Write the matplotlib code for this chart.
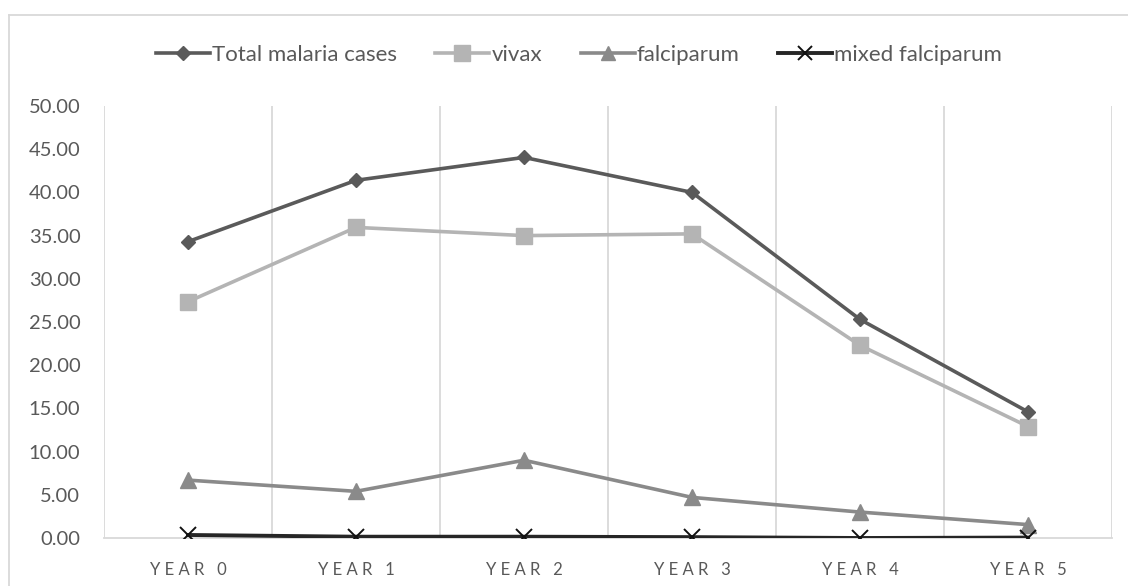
import matplotlib.pyplot as plt
from matplotlib.lines import Line2D

plt.rcParams["font.family"] = ["Lato", "DejaVu Sans"]

# yearly case figures per series
years = ["YEAR 0", "YEAR 1", "YEAR 2", "YEAR 3", "YEAR 4", "YEAR 5"]
total_cases = [34.3, 41.4, 44.05, 40.0, 25.3, 14.6]
vivax = [27.35, 35.95, 35.0, 35.2, 22.3, 12.9]
falciparum = [6.7, 5.4, 9.0, 4.7, 3.0, 1.55]
mixed_falciparum = [0.35, 0.15, 0.15, 0.1, 0.0, 0.05]

TEXT = "#595959"
GRID = "#d9d9d9"


def main():
    fig = plt.figure(figsize=(11.28, 5.86), dpi=100)
    ax = fig.add_axes([104 / 1128, 1 - 538 / 586, 1008 / 1128, 432 / 586])

    x = list(range(len(years)))
    ax.plot(x, total_cases, color="#5a5a5a", lw=2.6, marker="D", ms=7,
            label="Total malaria cases", zorder=4)
    ax.plot(x, vivax, color="#b4b4b4", lw=2.6, marker="s", ms=12,
            label="vivax", zorder=3)
    ax.plot(x, falciparum, color="#8a8a8a", lw=2.6, marker="^", ms=11,
            label="falciparum", zorder=3)
    ax.plot(x, mixed_falciparum, color="#262626", lw=2.8, zorder=5)
    ax.plot(x, mixed_falciparum, ls="none", marker="x", ms=11, mew=1.4,
            color="#111111", zorder=6)

    # vertical separators between categories
    for b in range(len(years) + 1):
        ax.axvline(b - 0.5, color=GRID, lw=1.3, zorder=1)

    ax.set_xlim(-0.5, len(years) - 0.5)
    ax.set_ylim(0, 50)
    ax.set_yticks([i * 5 for i in range(11)])
    ax.set_yticklabels([f"{i * 5:.2f}" for i in range(11)])
    ax.set_xticks(x)
    ax.set_xticklabels([" ".join(y) for y in years])

    for s in ["top", "left", "right"]:
        ax.spines[s].set_visible(False)
    ax.spines["bottom"].set_color(GRID)
    ax.spines["bottom"].set_linewidth(1.3)
    ax.tick_params(axis="y", length=0, pad=17, labelsize=14.5, labelcolor=TEXT)
    ax.tick_params(axis="x", length=0, pad=17, labelsize=12, labelcolor=TEXT)

    # chart frame (left and top edges)
    fig.add_artist(Line2D([9 / 1128, 9 / 1128], [0, 1 - 15 / 586],
                          color=GRID, lw=1.3, transform=fig.transFigure))
    fig.add_artist(Line2D([9 / 1128, 1], [1 - 15 / 586, 1 - 15 / 586],
                          color=GRID, lw=1.3, transform=fig.transFigure))

    handles = [
        Line2D([], [], color="#5a5a5a", lw=2.6, marker="D", ms=7),
        Line2D([], [], color="#b4b4b4", lw=2.6, marker="s", ms=11),
        Line2D([], [], color="#8a8a8a", lw=2.6, marker="^", ms=10),
        Line2D([], [], color="#262626", lw=2.8, marker="x", ms=10, mew=1.4,
               mec="#111111"),
    ]
    labels = ["Total malaria cases", "vivax", "falciparum", "mixed falciparum"]
    leg = fig.legend(handles, labels, ncol=4, loc="center",
                     bbox_to_anchor=(579 / 1128, 1 - 55 / 586),
                     frameon=False, fontsize=16, handlelength=2.43,
                     handletextpad=0.1, columnspacing=1.72)
    for t in leg.get_texts():
        t.set_color(TEXT)

    fig.savefig("out.png", dpi=100)
    plt.close(fig)


if __name__ == "__main__":
    main()
